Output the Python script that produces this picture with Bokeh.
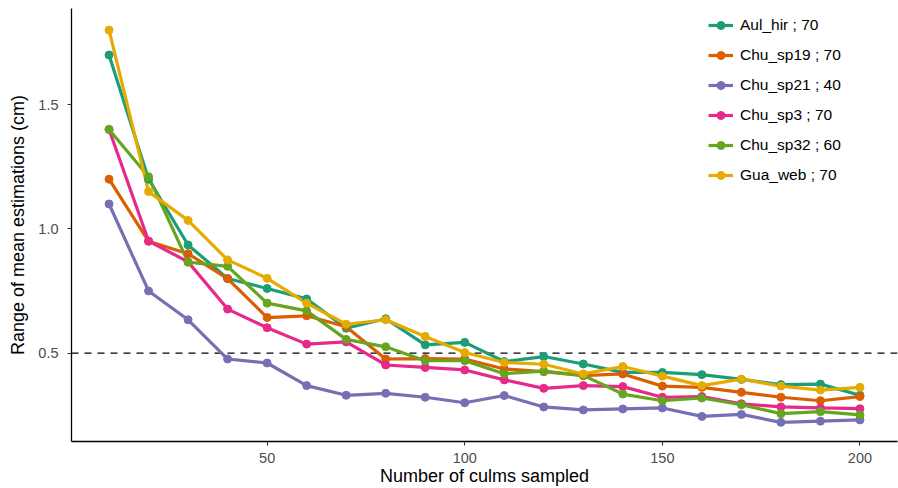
from bokeh.plotting import figure
from bokeh.models import Range1d, FixedTicker, Span, Legend, LegendItem, NumeralTickFormatter
from bokeh.embed import file_html
from bokeh.resources import INLINE

x = [10, 20, 30, 40, 50, 60, 70, 80, 90, 100, 110, 120, 130, 140, 150, 160, 170, 180, 190, 200]

aul_hir = [1.70, 1.20, 0.935, 0.80, 0.76, 0.718, 0.60, 0.638, 0.533, 0.543, 0.466, 0.486, 0.456, 0.422, 0.422, 0.413, 0.394, 0.373, 0.375, 0.330]
chu_sp19 = [1.20, 0.95, 0.90, 0.80, 0.643, 0.650, 0.606, 0.476, 0.478, 0.476, 0.436, 0.425, 0.409, 0.416, 0.367, 0.362, 0.342, 0.322, 0.308, 0.325]
chu_sp21 = [1.10, 0.75, 0.634, 0.476, 0.46, 0.369, 0.330, 0.338, 0.322, 0.300, 0.329, 0.283, 0.271, 0.275, 0.279, 0.245, 0.253, 0.221, 0.226, 0.231]
chu_sp3 = [1.40, 0.951, 0.867, 0.677, 0.602, 0.536, 0.545, 0.452, 0.442, 0.432, 0.392, 0.358, 0.369, 0.365, 0.322, 0.325, 0.296, 0.283, 0.279, 0.276]
chu_sp32 = [1.40, 1.21, 0.866, 0.849, 0.701, 0.670, 0.555, 0.525, 0.469, 0.469, 0.417, 0.427, 0.410, 0.335, 0.308, 0.319, 0.292, 0.256, 0.264, 0.251]
gua_web = [1.80, 1.15, 1.034, 0.875, 0.801, 0.701, 0.616, 0.634, 0.567, 0.502, 0.462, 0.455, 0.416, 0.446, 0.407, 0.369, 0.395, 0.367, 0.351, 0.362]

labels = ["Aul_hir ; 70", "Chu_sp19 ; 70", "Chu_sp21 ; 40", "Chu_sp3 ; 70", "Chu_sp32 ; 60", "Gua_web ; 70"]
series = [aul_hir, chu_sp19, chu_sp21, chu_sp3, chu_sp32, gua_web]
colors = ["#1B9E77", "#D95F02", "#7570B3", "#E7298A", "#66A61E", "#E6AB02"]

x_ticks = [50, 100, 150, 200]
y_ticks = [0.5, 1.0, 1.5]
threshold = 0.5

FONT = "Liberation Sans"

p = figure(width=898, height=488, output_backend="svg", toolbar_location=None,
           x_range=Range1d(0.5, 209.5), y_range=Range1d(0.144, 1.887),
           min_border_left=71, min_border_right=1, min_border_top=8, min_border_bottom=47)
p.background_fill_color = "white"
p.border_fill_color = "white"
p.outline_line_color = None
p.xgrid.visible = False
p.ygrid.visible = False

for ax in (p.xaxis[0], p.yaxis[0]):
    ax.axis_line_color = "black"
    ax.axis_line_width = 1.3
    ax.major_tick_line_color = "#333333"
    ax.major_tick_line_width = 1.1
    ax.major_tick_out = 4
    ax.major_tick_in = 0
    ax.minor_tick_line_color = None
    ax.major_label_text_font = FONT
    ax.major_label_text_font_size = "14.5px"
    ax.major_label_text_color = "#4D4D4D"
    ax.axis_label_text_font = FONT
    ax.axis_label_text_font_size = "18px"
    ax.axis_label_text_font_style = "normal"
    ax.axis_label_text_color = "black"

p.xaxis[0].ticker = FixedTicker(ticks=x_ticks)
p.yaxis[0].ticker = FixedTicker(ticks=y_ticks)
p.yaxis[0].formatter = NumeralTickFormatter(format="0.0")
p.xaxis[0].axis_label = "Number of culms sampled"
p.yaxis[0].axis_label = "Range of mean estimations (cm)"
p.xaxis[0].major_label_standoff = 7
p.yaxis[0].major_label_standoff = 9
p.xaxis[0].axis_label_standoff = 0
p.yaxis[0].axis_label_standoff = 7

span = Span(location=threshold, dimension="width", line_color="black", line_width=1.3,
            line_dash="7 6", level="underlay")
p.add_layout(span)

line_rs = []
for ys, c in zip(series, colors):
    line_rs.append(p.line(x, ys, line_color=c, line_width=3.2))
pt_rs = []
for ys, c in zip(series, colors):
    pt_rs.append(p.scatter(x, ys, size=8, fill_color=c, line_color=c, marker="circle"))

items = [LegendItem(label=lab, renderers=[lr, pr]) for lab, lr, pr in zip(labels, line_rs, pt_rs)]
legend = Legend(items=items, location=(637, 256), padding=0, margin=0, spacing=10,
                glyph_width=25, glyph_height=20, label_height=20, label_standoff=7,
                label_text_font=FONT, label_text_font_size="15.5px", label_text_color="black",
                border_line_color=None, background_fill_alpha=0)
p.add_layout(legend)

open("out.html", "w").write(file_html(p, INLINE))
